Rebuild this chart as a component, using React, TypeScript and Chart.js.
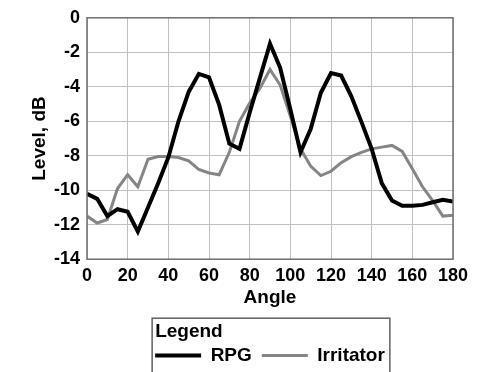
import React, { useEffect, useRef } from 'react';
import { Chart, registerables } from 'chart.js';

Chart.register(...registerables);

const angles = [0, 5, 10, 15, 20, 25, 30, 35, 40, 45, 50, 55, 60, 65, 70, 75, 80, 85, 90, 95, 100, 105, 110, 115, 120, 125, 130, 135, 140, 145, 150, 155, 160, 165, 170, 175, 180];
const rpg = [-10.2, -10.5, -11.5, -11.1, -11.25, -12.4, -11.0, -9.6, -8.1, -6.0, -4.3, -3.25, -3.45, -5.05, -7.3, -7.6, -5.5, -3.5, -1.5, -2.9, -5.3, -7.8, -6.45, -4.35, -3.2, -3.35, -4.55, -6.05, -7.6, -9.6, -10.6, -10.9, -10.9, -10.85, -10.7, -10.55, -10.65];
const irritator = [-11.5, -11.9, -11.7, -9.9, -9.1, -9.8, -8.2, -8.05, -8.05, -8.1, -8.3, -8.8, -9.0, -9.1, -7.8, -6.0, -4.95, -4.1, -3.0, -3.9, -5.7, -7.6, -8.6, -9.15, -8.9, -8.4, -8.05, -7.8, -7.6, -7.5, -7.4, -7.75, -8.75, -9.8, -10.6, -11.5, -11.45];
const xTicks = [0, 20, 40, 60, 80, 100, 120, 140, 160, 180];
const yTicks = [0, -2, -4, -6, -8, -10, -12, -14];
const seriesNames = ['RPG', 'Irritator'];
const xTitle = 'Angle';
const yTitle = 'Level, dB';
const legendTitle = 'Legend';

const FONT = '"Liberation Sans", Arial, Helvetica, sans-serif';

const framePlugin = {
  id: 'frameAndLegendBox',
  afterDraw(chart: any) {
    const { ctx, chartArea: a } = chart;
    ctx.save();
    ctx.strokeStyle = '#707070';
    ctx.lineWidth = 1.5;
    ctx.strokeRect(a.left, a.top, a.right - a.left, a.bottom - a.top);
    const lg = chart.legend;
    if (lg && lg.legendHitBoxes && lg.legendHitBoxes.length) {
      const hb = lg.legendHitBoxes;
      const l0 = Math.min(...hb.map((h: any) => h.left));
      const r0 = Math.max(...hb.map((h: any) => h.left + h.width));
      ctx.strokeStyle = '#606060';
      ctx.lineWidth = 1.5;
      ctx.strokeRect(l0 - 3, lg.top, r0 - l0 + 8, chart.height + 20 - lg.top);
      ctx.font = `bold 19px ${FONT}`;
      ctx.fillStyle = '#000';
      ctx.textAlign = 'left';
      ctx.textBaseline = 'middle';
      ctx.fillText(legendTitle, l0, lg.top + 13.5);
    }
    ctx.restore();
  },
};

export default function App() {
  const ref = useRef<HTMLCanvasElement>(null);
  useEffect(() => {
    if (!ref.current) return;
    Chart.defaults.font.family = FONT;
    const chart = new Chart(ref.current, {
      type: 'line',
      data: {
        datasets: [
          {
            label: seriesNames[0],
            data: angles.map((a, i) => ({ x: a, y: rpg[i] })),
            borderColor: '#000000',
            backgroundColor: '#000000',
            borderWidth: 4,
            pointRadius: 0,
            tension: 0,
          },
          {
            label: seriesNames[1],
            data: angles.map((a, i) => ({ x: a, y: irritator[i] })),
            borderColor: '#858585',
            backgroundColor: '#858585',
            borderWidth: 3,
            pointRadius: 0,
            tension: 0,
          },
        ],
      },
      options: {
        responsive: false,
        animation: false,
        layout: { padding: { top: 16, right: 38, left: 0, bottom: -3 } },
        plugins: {
          tooltip: { enabled: false },
          legend: {
            position: 'bottom',
            align: 'center',
            fullSize: false,
            title: { display: true, text: '', font: { size: 19, weight: 'bold' }, padding: { top: 4, bottom: -9 } },
            labels: {
              usePointStyle: true,
              pointStyle: 'line',
              pointStyleWidth: 46,
              color: '#000',
              font: { size: 19, weight: 'bold' },
              padding: 10,
            },
          },
        },
        scales: {
          x: {
            type: 'linear',
            min: 0,
            max: 180,
            afterBuildTicks: (s: any) => { s.ticks = xTicks.map((v) => ({ value: v })); },
            afterFit: (s: any) => { s.height = 59; },
            ticks: { color: '#000', font: { size: 18, weight: 'bold' }, padding: 6, maxRotation: 0, autoSkip: false },
            grid: { color: '#c0c0c0', lineWidth: 1, drawTicks: false },
            border: { display: false },
            title: { display: true, text: xTitle, color: '#000', font: { size: 19, weight: 'bold' }, padding: { top: 0, bottom: 9 } },
          },
          y: {
            type: 'linear',
            min: -14,
            max: 0,
            afterBuildTicks: (s: any) => { s.ticks = yTicks.map((v) => ({ value: v })); },
            afterFit: (s: any) => { s.width = 87; },
            ticks: { color: '#000', font: { size: 18, weight: 'bold' }, padding: 7 },
            grid: { color: '#c0c0c0', lineWidth: 1, drawTicks: false },
            border: { display: false },
            title: { display: true, text: yTitle, color: '#000', font: { size: 19, weight: 'bold' }, padding: { top: 28, bottom: 0 } },
          },
        },
      },
      plugins: [framePlugin],
    } as any);
    return () => chart.destroy();
  }, []);
  return (
    <div style={{ position: 'fixed', left: 0, top: 0, width: 491, height: 372, background: '#fff' }}>
      <canvas ref={ref} width={491} height={372} style={{ display: 'block' }} />
    </div>
  );
}
